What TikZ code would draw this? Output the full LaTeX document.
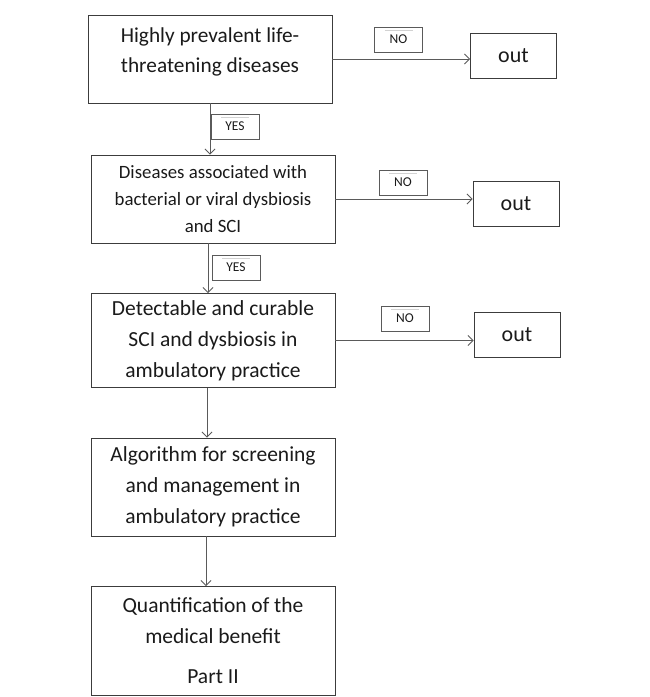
\documentclass[tikz,border=0pt]{standalone}
\usepackage{fontspec}
\setmainfont{Carlito}
\usepackage{xcolor}
\usepackage{tikz}
\usetikzlibrary{positioning, arrows.meta}
\definecolor{flowline}{HTML}{5A5A5A}
\definecolor{flowborder}{HTML}{3C3C3C}
\definecolor{flowtext}{HTML}{1A1A1A}

\begin{document}
\begin{tikzpicture}[x=1pt,y=-1pt,
  stepbox/.style={draw=flowborder,line width=0.9pt,text=flowtext,align=center,minimum width=244pt,inner sep=0pt},
  outbox/.style={draw=flowborder,line width=0.9pt,text=flowtext,minimum width=86pt,minimum height=45pt,inner sep=0pt,font=\fontsize{22}{24}\selectfont},
  tagbox/.style={draw=flowline,line width=0.8pt,text=flowtext,minimum width=48pt,minimum height=25pt,inner sep=0pt,font=\fontsize{13.5}{16}\selectfont,
    path picture={\draw[gray!35,line width=0.4pt]([xshift=-14pt,yshift=-3pt]path picture bounding box.north)--([xshift=14pt,yshift=-3pt]path picture bounding box.north);}},
  flowarrow/.style={draw=flowline,line width=0.8pt,-{Straight Barb[length=5pt,width=10pt]}}]
  \useasboundingbox(0,0)rectangle(650,697);
  \node[stepbox,minimum height=88pt,font=\fontsize{21.3}{30}\selectfont](screen)at(210,59){Highly prevalent life-\\threatening diseases\\[-12pt] };
  \node[stepbox,minimum height=88pt,font=\fontsize{18.8}{27}\selectfont](dysbio)at(213,199){Diseases associated with\\bacterial or viral dysbiosis\\and SCI};
  \node[stepbox,minimum height=94pt,font=\fontsize{21.5}{31}\selectfont](detect)at(213,340.5){Detectable and curable\\SCI and dysbiosis in\\ambulatory practice};
  \node[stepbox,minimum height=98pt,font=\fontsize{21.5}{31}\selectfont](algo)at(213,487){Algorithm for screening\\and management in\\ambulatory practice};
  \node[stepbox,minimum height=109pt,font=\fontsize{21.5}{31}\selectfont](benefit)at(213,641){Quantification of the\\medical benefit\\[9pt]Part II};
  \node[outbox](outA)at(513.5,56){out};
  \node[outbox](outB)at(516,203.5){out};
  \node[outbox](outC)at(517,335){out};
  \node[tagbox](noA)at(398.5,39.5){NO};
  \node[tagbox](noB)at(403,182.5){NO};
  \node[tagbox](noC)at(405,318.5){NO};
  \node[tagbox](yesA)at(235,126.5){YES};
  \node[tagbox](yesB)at(236,267.5){YES};
  \draw[flowarrow](screen.south)--(screen.south |- dysbio.north);
  \draw[flowarrow]([xshift=-5pt]dysbio.south)--([xshift=-5pt]detect.north);
  \draw[flowarrow]([xshift=-6pt]detect.south)--([xshift=-6pt]algo.north);
  \draw[flowarrow]([xshift=-7pt]algo.south)--([xshift=-7pt]benefit.north);
  \draw[flowarrow](screen.east)--(screen.east -| outA.west);
  \draw[flowarrow](dysbio.east)--(dysbio.east -| outB.west);
  \draw[flowarrow](detect.east)--(detect.east -| outC.west);
\end{tikzpicture}
\end{document}
